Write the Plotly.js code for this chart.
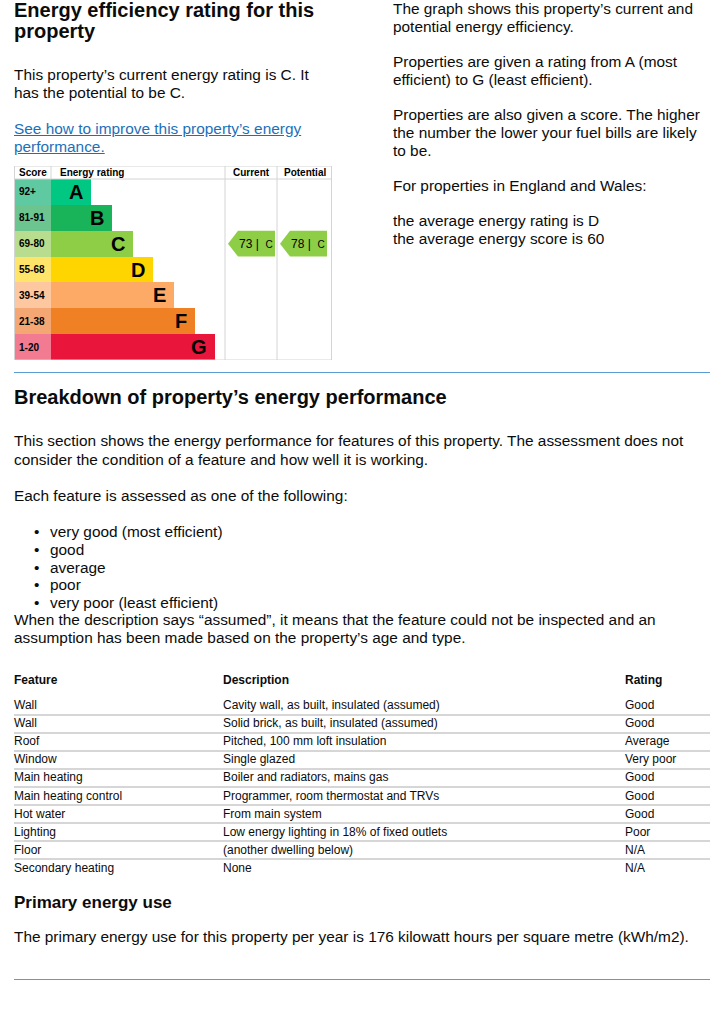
<!DOCTYPE html>
<html>
<head>
<meta charset="utf-8">
<script src="https://cdn.plot.ly/plotly-3.0.1.min.js"></script>
<style>
  html, body { margin:0; padding:0; background:#fff; }
  body { width:724px; height:1024px; position:relative; overflow:hidden;
         font-family:"Liberation Sans", Arial, sans-serif; color:#0b0c0c; }
  .abs { position:absolute; white-space:nowrap; }
  .h1 { font-weight:bold; font-size:20px; line-height:21px; }
  .p { font-size:15.4px; }
  .rule { position:absolute; left:14px; width:696px; height:1px; background:#5b9bd5; }
  a { color:#1d70b8; text-decoration:underline; }
  .tc { position:absolute; white-space:nowrap; font-size:12px; line-height:18px; }
  .sep { position:absolute; left:14px; width:696px; height:2px; background:#d6d6d6; }
</style>
</head>
<body>
<div class="abs h1" style="left:14px; top:0px;">Energy efficiency rating for this<br>property</div>
<div class="abs p" style="left:14px; top:66px; line-height:18px;">This property’s current energy rating is C. It<br>has the potential to be C.</div>
<div class="abs p" style="left:14px; top:120px; line-height:17.5px;"><a>See how to improve this property’s energy<br>performance.</a></div>

<div class="abs p" style="left:393px; top:0px; line-height:17.7px;">
The graph shows this property’s current and<br>potential energy efficiency.<br><br>
Properties are given a rating from A (most<br>efficient) to G (least efficient).<br><br>
Properties are also given a score. The higher<br>the number the lower your fuel bills are likely<br>to be.<br><br>
For properties in England and Wales:<br><br>
the average energy rating is D<br>the average energy score is 60
</div>

<div id="chart" style="position:absolute; left:14px; top:166px; width:318px; height:194px;"></div>

<div class="rule" style="top:372px;"></div>
<div class="abs h1" style="left:14px; top:385px; line-height:24px;">Breakdown of property’s energy performance</div>
<div class="abs p" style="left:14px; top:432px; line-height:18.5px;">This section shows the energy performance for features of this property. The assessment does not<br>consider the condition of a feature and how well it is working.</div>
<div class="abs p" style="left:14px; top:487px; line-height:18px;">Each feature is assessed as one of the following:</div>
<div id="bullets" class="abs p" style="left:14px; top:523px; line-height:17.75px;"></div>
<div class="abs p" style="left:14px; top:611px; line-height:18px;">When the description says “assumed”, it means that the feature could not be inspected and an<br>assumption has been made based on the property’s age and type.</div>

<div id="tablewrap"></div>

<div class="abs" style="left:14px; top:892px; font-weight:bold; font-size:17px; line-height:22px;">Primary energy use</div>
<div class="abs p" style="left:14px; top:928px; line-height:18px;">The primary energy use for this property per year is 176 kilowatt hours per square metre (kWh/m2).</div>
<div class="rule" style="top:979px;"></div>

<script>
// ---- data ----
const bands = ['A','B','C','D','E','F','G'];
const scoreRanges = ['92+','81-91','69-80','55-68','39-54','21-38','1-20'];
const bandLengths = [40, 61, 82, 102, 123, 144, 164];
const bandColors = ['#00c781','#19b459','#8dce46','#ffd500','#fcaa65','#ef8023','#e9153b'];
const scoreColors = ['#5fc9a2','#6cc48f','#b9dd8e','#ffe46a','#fdc7a0','#f4a773','#f27a91'];
const currentScore = 73;
const currentBand = 'C';
const potentialScore = 78;
const potentialBand = 'C';

const bulletItems = ['very good (most efficient)','good','average','poor','very poor (least efficient)'];
const tableHeaders = ['Feature','Description','Rating'];
const featureNames = ['Wall','Wall','Roof','Window','Main heating','Main heating control','Hot water','Lighting','Floor','Secondary heating'];
const featureDescriptions = ['Cavity wall, as built, insulated (assumed)','Solid brick, as built, insulated (assumed)','Pitched, 100 mm loft insulation','Single glazed','Boiler and radiators, mains gas','Programmer, room thermostat and TRVs','From main system','Low energy lighting in 18% of fixed outlets','(another dwelling below)','None'];
const featureRatings = ['Good','Good','Average','Very poor','Good','Good','Good','Poor','N/A','N/A'];

// ---- bullets ----
document.getElementById('bullets').innerHTML = bulletItems.map(t =>
  '<div style="position:relative;"><span style="position:absolute; left:20px;">•</span><span style="margin-left:36px;">' + t + '</span></div>').join('');

// ---- table ----
const colX = [14, 223, 625];
const headC = 680, row0 = 705, rowStep = 18.1;
let html = '';
tableHeaders.forEach((h, j) => {
  html += '<div class="tc" style="left:' + colX[j] + 'px; top:' + (headC - 9) + 'px; font-weight:bold;">' + h + '</div>';
});
for (let i = 0; i < featureNames.length; i++) {
  const top = row0 + rowStep * i - 9;
  [featureNames[i], featureDescriptions[i], featureRatings[i]].forEach((t, j) => {
    html += '<div class="tc" style="left:' + colX[j] + 'px; top:' + top + 'px;">' + t + '</div>';
  });
  if (i < featureNames.length - 1) {
    html += '<div class="sep" style="top:' + (row0 + rowStep * i + 8.5) + 'px;"></div>';
  }
}
document.getElementById('tablewrap').innerHTML = html;

// ---- chart ----
const W = 318, H = 194, headerH = 13, scoreW = 37, curL = 211, potL = 263;
const yTop = 1 - headerH / H;
const font = 'Liberation Sans, Arial, sans-serif';

const traces = [
  { type:'bar', orientation:'h', y:bands, x:bands.map(() => scoreW), base:0, width:1,
    marker:{ color:scoreColors, line:{width:0} }, hoverinfo:'skip' },
  { type:'bar', orientation:'h', y:bands, x:bandLengths, base:bands.map(() => scoreW), width:1,
    marker:{ color:bandColors, line:{width:0} }, hoverinfo:'skip' }
];

const annotations = [];
bands.forEach((b, i) => {
  annotations.push({ x:3, y:b, xref:'x', yref:'y', text:'<b>' + scoreRanges[i] + '</b>', showarrow:false, xanchor:'left',
    font:{ family:font, size:10, color:'#000' } });
  annotations.push({ x:scoreW + bandLengths[i] - 6, y:b, xref:'x', yref:'y', text:'<b>' + b + '</b>', showarrow:false, xanchor:'right',
    font:{ family:font, size:20, color:'#000' } });
});
const hy = 1 - headerH / 2 / H;
[['Score',3,'left'],['Energy rating',44,'left'],['Current',(curL+potL)/2,'center'],['Potential',(potL+W)/2,'center']].forEach(h => {
  annotations.push({ x:h[1], y:hy, xref:'x', yref:'paper', text:'<b>' + h[0] + '</b>', showarrow:false, xanchor:h[2], yanchor:'middle',
    font:{ family:font, size:10, color:'#000' } });
});

const shapes = [];
function arrow(colL, colR, band, score) {
  const bi = bands.indexOf(band);
  const tip = colL + 3, body = colL + 13, right = colR - 2;
  shapes.push({ type:'path', xref:'x', yref:'y',
    path:'M ' + tip + ' ' + bi + ' L ' + body + ' ' + (bi - 0.5) + ' L ' + right + ' ' + (bi - 0.5) + ' L ' + right + ' ' + (bi + 0.5) + ' L ' + body + ' ' + (bi + 0.5) + ' Z',
    fillcolor:bandColors[bi], line:{width:0} });
  annotations.push({ x:(tip + right) / 2 + 4, y:band, xref:'x', yref:'y', text:score + ' |  <span style="font-size:10px">' + band + '</span>',
    showarrow:false, xanchor:'center', font:{ family:font, size:12, color:'#000' } });
}
arrow(curL, potL, currentBand, currentScore);
arrow(potL, W - 3, potentialBand, potentialScore);

const gridC = '#d4d4d4';
shapes.push({ type:'rect', xref:'x', yref:'paper', x0:0.5, x1:W - 0.5, y0:0, y1:1, line:{color:gridC, width:1}, fillcolor:'rgba(0,0,0,0)' });
shapes.push({ type:'line', xref:'x', yref:'paper', x0:0, x1:W, y0:yTop, y1:yTop, line:{color:gridC, width:1} });
shapes.push({ type:'line', xref:'x', yref:'paper', x0:curL, x1:curL, y0:0, y1:1, line:{color:gridC, width:1} });
shapes.push({ type:'line', xref:'x', yref:'paper', x0:potL, x1:potL, y0:0, y1:1, line:{color:gridC, width:1} });
shapes.push({ type:'line', xref:'x', yref:'paper', x0:scoreW, x1:scoreW, y0:yTop, y1:1, line:{color:gridC, width:1} });

const layout = {
  width:W, height:H, margin:{l:0,r:0,t:0,b:0}, showlegend:false,
  paper_bgcolor:'#fff', plot_bgcolor:'#fff', barmode:'overlay', bargap:0,
  xaxis:{ range:[0, W], visible:false, fixedrange:true },
  yaxis:{ type:'category', categoryarray:bands, range:[6.5, -0.5], domain:[0, yTop], visible:false, fixedrange:true },
  annotations:annotations, shapes:shapes
};
Plotly.newPlot('chart', traces, layout, { staticPlot:true, displayModeBar:false });
</script>
</body>
</html>
